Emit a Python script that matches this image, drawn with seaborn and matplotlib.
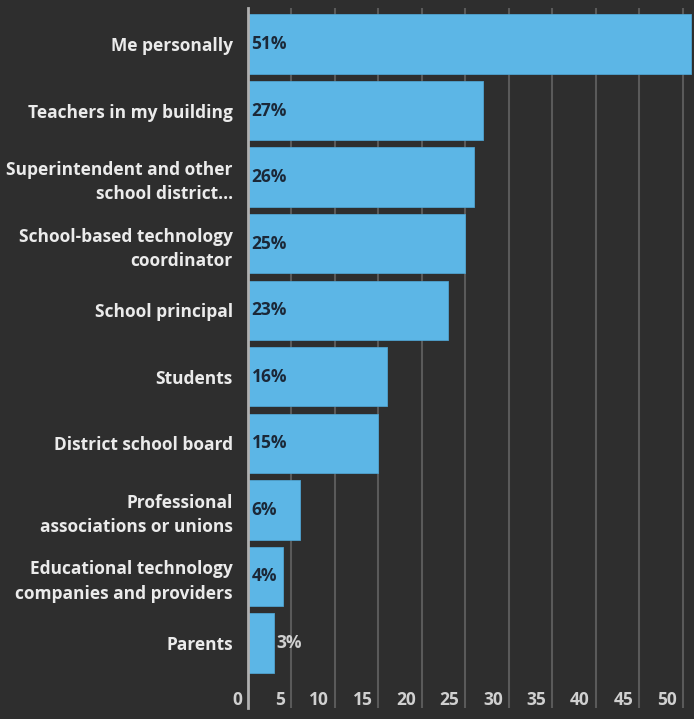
import pandas as pd
import seaborn as sns
import matplotlib.pyplot as plt
from matplotlib.transforms import ScaledTranslation

# Survey responses (percent)
categories = [
    "Me personally",
    "Teachers in my building",
    "Superintendent and other\nschool district...",
    "School-based technology\ncoordinator",
    "School principal",
    "Students",
    "District school board",
    "Professional\nassociations or unions",
    "Educational technology\ncompanies and providers",
    "Parents",
]
values = [51, 27, 26, 25, 23, 16, 15, 6, 4, 3]
x_ticks = [0, 5, 10, 15, 20, 25, 30, 35, 40, 45, 50]

df = pd.DataFrame({"Source": categories, "Percent": values})

bg = "#2e2e2e"
bar_color = "#5cb6e6"
fs = 12.5

sns.set_style("dark")
plt.rcParams["font.family"] = ["Open Sans", "DejaVu Sans"]

fig = plt.figure(figsize=(6.94, 7.19), dpi=100, facecolor=bg)
ax = fig.add_axes([248 / 694, 11 / 719, 446 / 694, 700 / 719])
ax.set_facecolor(bg)

sns.barplot(data=df, y="Source", x="Percent", orient="h", color=bar_color,
            saturation=1, width=0.89, edgecolor="#4fa3d0", linewidth=0.6,
            ax=ax, zorder=3)

ax.set_xlim(0, 51.3)
ax.set_ylim(9.976, -0.54)
ax.set_xlabel("")
ax.set_ylabel("")

# grid and spines
ax.set_xticks(x_ticks)
ax.grid(axis="x", color="#5a5a5a", lw=1.5, zorder=0)
ax.grid(axis="y", visible=False)
for side in ["top", "right", "bottom"]:
    ax.spines[side].set_visible(False)
ax.spines["left"].set_color("#b0b0b0")
ax.spines["left"].set_linewidth(2)
ax.spines["left"].set_zorder(4)

# category labels
ax.tick_params(axis="y", length=0, pad=11, labelsize=fs, labelcolor="#ebebeb")
for lbl in ax.get_yticklabels():
    lbl.set_fontweight("bold")
    lbl.set_linespacing(1.45)

# x tick labels sit inside the plot, left of each grid line
ax.tick_params(axis="x", length=0, pad=-12.5, labelsize=fs, labelcolor="#d0d0d0")
offset = ScaledTranslation(-6 / 100, 0, fig.dpi_scale_trans)
for lbl in ax.get_xticklabels():
    lbl.set_fontweight("bold")
    lbl.set_horizontalalignment("right")
    lbl.set_transform(lbl.get_transform() + offset)

# value labels
for i, v in enumerate(values):
    if v >= 4:
        ax.text(0.4, i, f"{v}%", va="center", ha="left", fontsize=fs,
                fontweight="bold", color="#1b2838", zorder=5)
    else:
        ax.text(v + 0.3, i, f"{v}%", va="center", ha="left", fontsize=fs,
                fontweight="bold", color="#d0d0d0", zorder=5)

plt.savefig("out.png", dpi=100, facecolor=bg)
